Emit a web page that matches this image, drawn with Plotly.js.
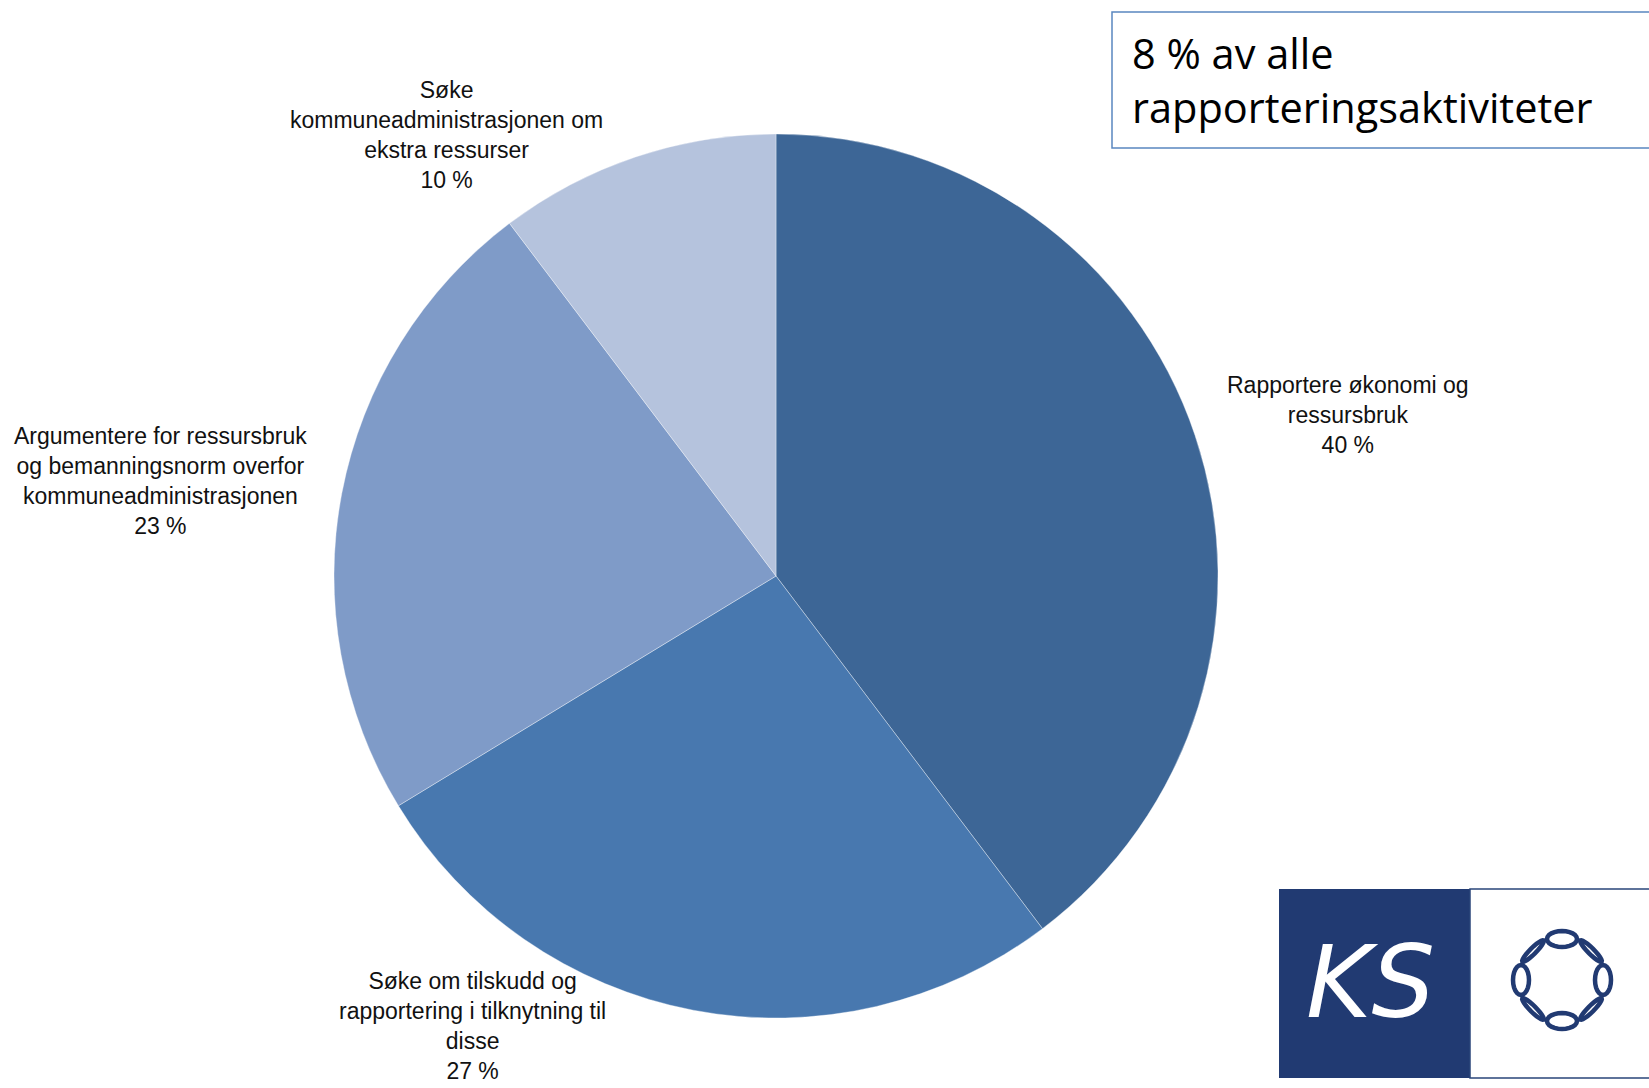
<!DOCTYPE html>
<html>
<head>
<meta charset="utf-8">
<script src="https://cdn.plot.ly/plotly-3.0.1.min.js"></script>
<style>html,body{margin:0;padding:0;background:#fff;}#chart{width:1649px;height:1088px;}</style>
</head>
<body>
<div id="chart"></div>
<script>
// Data
const labelLines = [
  ["Rapportere økonomi og", "ressursbruk"],
  ["Søke om tilskudd og", "rapportering i tilknytning til", "disse"],
  ["Argumentere for ressursbruk", "og bemanningsnorm overfor", "kommuneadministrasjonen"],
  ["Søke", "kommuneadministrasjonen om", "ekstra ressurser"]
];
const categories = labelLines.map(l => l.join(" "));
const values = [39.7, 26.6, 23.4, 10.3];
const colors = ["#3D6696", "#4878AF", "#7F9BC8", "#B5C3DD"];
const boxTitle = ["8 % av alle", "rapporteringsaktiviteter"];

// Label positions (paper coords, layout only)
const labelPos = [
  {x: 0.8175, y: 0.619},
  {x: 0.2863, y: 0.057},
  {x: 0.0976, y: 0.558},
  {x: 0.271, y: 0.876}
];

const W = 1649, H = 1088;
const cx = 776, cy = 576, r = 442;

const trace = {
  type: "pie",
  labels: categories,
  values: values,
  sort: false,
  direction: "clockwise",
  rotation: 0,
  textinfo: "none",
  hoverinfo: "label+percent",
  marker: {colors: colors, line: {color: "rgba(255,255,255,0.35)", width: 1}},
  domain: {x: [(cx - r) / W, (cx + r) / W], y: [(H - cy - r) / H, (H - cy + r) / H]},
  showlegend: false
};

const total = values.reduce((a, b) => a + b, 0);
const annotations = labelLines.map((lines, i) => ({
  xref: "paper", yref: "paper",
  x: labelPos[i].x, y: labelPos[i].y,
  xanchor: "center", yanchor: "middle",
  showarrow: false,
  align: "center",
  text: lines.concat([Math.round(values[i] / total * 100) + " %"]).join("<br>"),
  font: {family: "Liberation Sans, Arial", size: 23, color: "#111"}
}));

// Title box text
annotations.push({
  xref: "paper", yref: "paper",
  x: 1130 / W, y: 1 - 80 / H,
  xanchor: "left", yanchor: "middle",
  showarrow: false, align: "left",
  text: boxTitle.join("<br>"),
  font: {family: "Open Sans, Liberation Sans, Arial", size: 41.5, color: "#000"}
});

// KS logo text
annotations.push({
  xref: "paper", yref: "paper",
  x: 1370 / W, y: 1 - 982 / H,
  xanchor: "center", yanchor: "middle",
  showarrow: false,
  text: "<i>KS</i>",
  font: {family: "DejaVu Sans, Liberation Sans", size: 100, color: "#fff", weight: 300}
});

const shapes = [
  {type: "rect", xref: "paper", yref: "paper",
   x0: 1112 / W, x1: 1660 / W, y0: 1 - 148 / H, y1: 1 - 12 / H,
   line: {color: "#5A86C0", width: 1.5}, fillcolor: "rgba(0,0,0,0)"},
  {type: "rect", xref: "paper", yref: "paper",
   x0: 1279 / W, x1: 1470 / W, y0: 1 - 1078 / H, y1: 1 - 889 / H,
   line: {width: 0}, fillcolor: "#213A72"},
  {type: "rect", xref: "paper", yref: "paper",
   x0: 1470 / W, x1: 1660 / W, y0: 1 - 1078 / H, y1: 1 - 889 / H,
   line: {color: "#2A4679", width: 1.5}, fillcolor: "#fff"}
];

// Chain ring of links for the logo (decoration)
const lcx = 1562, lcy = 980, lr = 41, nLinks = 8;
for (let k = 0; k < nLinks; k++) {
  const a = -Math.PI / 2 + k * 2 * Math.PI / nLinks;
  const px = lcx + lr * Math.cos(a), py = lcy + lr * Math.sin(a);
  const tx = -Math.sin(a), ty = Math.cos(a);
  const hl = 15, hw = (k % 2 === 0) ? 8 : 3;
  const pts = [];
  for (let s = 0; s < 24; s++) {
    const t = s / 24 * 2 * Math.PI;
    const u = hl * Math.cos(t), v = hw * Math.sin(t);
    const X = px + u * tx - v * Math.cos(a);
    const Y = py + u * ty - v * Math.sin(a);
    pts.push((X / W).toFixed(5) + "," + (1 - Y / H).toFixed(5));
  }
  shapes.push({type: "path", xref: "paper", yref: "paper",
    path: "M" + pts.join(" L") + " Z",
    line: {color: "#213A72", width: 4.5}, fillcolor: "rgba(0,0,0,0)"});
}

const layout = {
  width: W, height: H,
  margin: {l: 0, r: 0, t: 0, b: 0},
  paper_bgcolor: "#fff",
  annotations: annotations,
  shapes: shapes
};

Plotly.newPlot("chart", [trace], layout, {displayModeBar: false, staticPlot: true});
</script>
</body>
</html>
